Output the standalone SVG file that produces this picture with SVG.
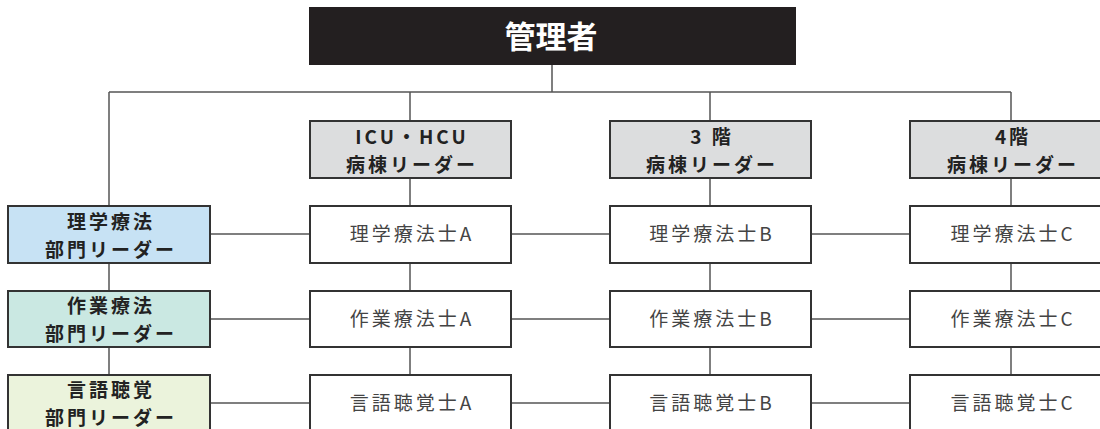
<svg xmlns="http://www.w3.org/2000/svg" width="1100" height="429" viewBox="0 0 1100 429">
<style>
.box{stroke:#333;stroke-width:2}
.ln{stroke:#555;stroke-width:1.5;fill:none}
.t{font-family:"Noto Sans CJK JP","Noto Sans",sans-serif;font-size:19px;letter-spacing:3px;text-anchor:middle}
.b{font-weight:bold;fill:#222}
.r{fill:#444}
</style>
<rect width="1100" height="429" fill="#fff"/>
<g id="connectors">
<path class="ln" d="M552 65V92M109 92H1011M109 92V206M410 92V121M710 92V121M1011 92V121"/>
<path class="ln" d="M410 178V206M710 178V206M1011 178V206"/>
<path class="ln" d="M109 263V291M109 347V375M410 263V291M410 347V375M710 263V291M710 347V375M1011 263V291M1011 347V375"/>
<path class="ln" d="M210 234H310M511 234H610M811 234H910M210 319H310M511 319H610M811 319H910M210 403H310M511 403H610M811 403H910"/>
</g>
<g id="manager">
<rect x="309" y="7" width="487" height="58" fill="#231f20"/>
<text x="551" y="48" style="font-family:'Noto Sans CJK JP','Noto Sans',sans-serif;text-anchor:middle;font-size:31px;font-weight:bold;fill:#fff">管理者</text>
</g>
<g id="ward-icu">
<rect class="box" x="310" y="121" width="201" height="57" fill="#dcddde"/>
<text class="t b" x="412" y="144">ICU・HCU</text>
<text class="t b" x="412" y="172">病棟リーダー</text>
</g>
<g id="ward-3f">
<rect class="box" x="610" y="121" width="201" height="57" fill="#dcddde"/>
<text class="t b" x="712" y="144">3 階</text>
<text class="t b" x="712" y="172">病棟リーダー</text>
</g>
<g id="ward-4f">
<rect class="box" x="910" y="121" width="201" height="57" fill="#dcddde"/>
<text class="t b" x="1013" y="144">4階</text>
<text class="t b" x="1013" y="172">病棟リーダー</text>
</g>
<g id="pt-leader">
<rect class="box" x="8" y="206" width="202" height="57" fill="#c7e2f4"/>
<text class="t b" x="111" y="229">理学療法</text>
<text class="t b" x="111" y="257">部門リーダー</text>
</g>
<g id="ot-leader">
<rect class="box" x="8" y="291" width="202" height="56" fill="#cae8e2"/>
<text class="t b" x="111" y="313">作業療法</text>
<text class="t b" x="111" y="341">部門リーダー</text>
</g>
<g id="st-leader">
<rect class="box" x="8" y="375" width="202" height="57" fill="#ebf3dc"/>
<text class="t b" x="111" y="397">言語聴覚</text>
<text class="t b" x="111" y="425">部門リーダー</text>
</g>
<g id="pt-a"><rect class="box" x="310" y="206" width="201" height="57" fill="#fff"/><text class="t r" x="412" y="241">理学療法士A</text></g>
<g id="pt-b"><rect class="box" x="610" y="206" width="201" height="57" fill="#fff"/><text class="t r" x="712" y="241">理学療法士B</text></g>
<g id="pt-c"><rect class="box" x="910" y="206" width="201" height="57" fill="#fff"/><text class="t r" x="1013" y="241">理学療法士C</text></g>
<g id="ot-a"><rect class="box" x="310" y="291" width="201" height="56" fill="#fff"/><text class="t r" x="412" y="326">作業療法士A</text></g>
<g id="ot-b"><rect class="box" x="610" y="291" width="201" height="56" fill="#fff"/><text class="t r" x="712" y="326">作業療法士B</text></g>
<g id="ot-c"><rect class="box" x="910" y="291" width="201" height="56" fill="#fff"/><text class="t r" x="1013" y="326">作業療法士C</text></g>
<g id="st-a"><rect class="box" x="310" y="375" width="201" height="57" fill="#fff"/><text class="t r" x="412" y="410">言語聴覚士A</text></g>
<g id="st-b"><rect class="box" x="610" y="375" width="201" height="57" fill="#fff"/><text class="t r" x="712" y="410">言語聴覚士B</text></g>
<g id="st-c"><rect class="box" x="910" y="375" width="201" height="57" fill="#fff"/><text class="t r" x="1013" y="410">言語聴覚士C</text></g>
</svg>
